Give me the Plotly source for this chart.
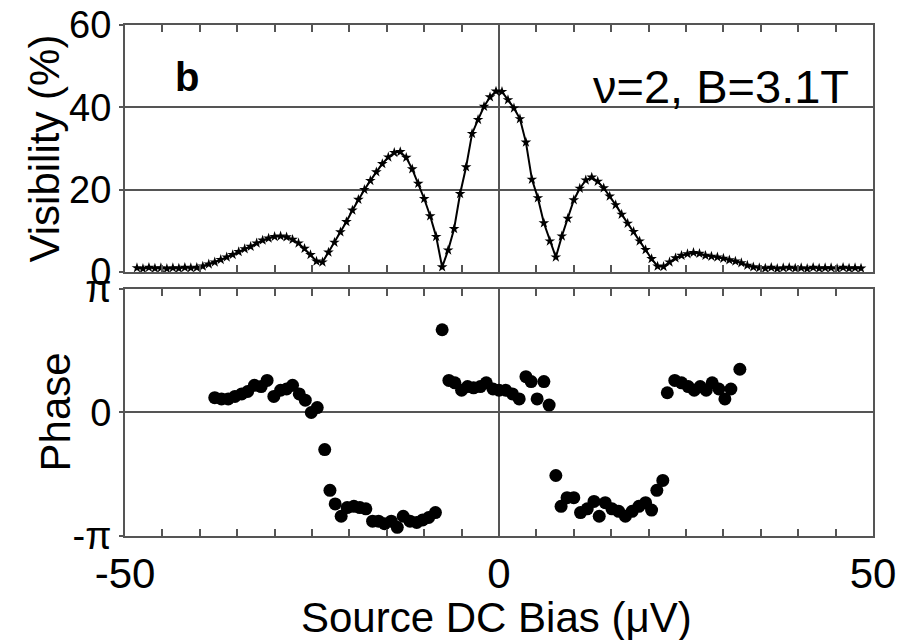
import plotly.graph_objects as go

# ---------------- data ----------------
bias_vis = [-48.4, -47.6, -46.8, -46.0, -45.2, -44.4, -43.6, -42.8, -42.0, -41.2,
            -40.4, -39.6, -38.8, -38.0, -37.2, -36.4, -35.6, -34.8, -34.0, -33.2,
            -32.4, -31.6, -30.8, -30.0, -29.2, -28.4, -27.6, -26.8, -26.0, -25.2,
            -24.4, -23.6, -22.8, -22.0, -21.2, -20.4, -19.6, -18.8, -18.0, -17.2,
            -16.4, -15.6, -14.8, -14.0, -13.2, -12.4, -11.6, -10.8, -10.0, -9.2,
            -8.4, -7.6, -6.8, -6.0, -5.2, -4.4, -3.6, -2.8, -2.0, -1.2,
            -0.4, 0.4, 1.2, 2.0, 2.8, 3.6, 4.4, 5.2, 6.0, 6.8,
            7.6, 8.4, 9.2, 10.0, 10.8, 11.6, 12.4, 13.2, 14.0, 14.8,
            15.6, 16.4, 17.2, 18.0, 18.8, 19.6, 20.4, 21.2, 22.0, 22.8,
            23.6, 24.4, 25.2, 26.0, 26.8, 27.6, 28.4, 29.2, 30.0, 30.8,
            31.6, 32.4, 33.2, 34.0, 34.8, 35.6, 36.4, 37.2, 38.0, 38.8,
            39.6, 40.4, 41.2, 42.0, 42.8, 43.6, 44.4, 45.2, 46.0, 46.8,
            47.6, 48.4]
visibility = [1.0, 0.8, 1.1, 0.9, 1.0, 0.8, 1.0, 0.9, 1.1, 1.0,
              1.1, 1.4, 1.9, 2.4, 3.0, 3.6, 4.2, 4.9, 5.6, 6.2,
              7.0, 7.7, 8.2, 8.6, 8.7, 8.5, 7.9, 7.0, 5.7, 4.2,
              2.6, 2.4, 4.8, 7.2, 9.7, 12.2, 15.0, 17.6, 20.0, 22.2,
              24.3, 26.3, 27.9, 29.0, 29.2, 27.8, 25.0, 21.5, 17.8, 13.6,
              8.6, 1.2, 5.3, 10.5, 19.0, 25.5, 33.6, 37.0, 40.2, 42.5,
              43.9, 43.8, 41.8, 39.8, 37.2, 31.5, 22.5, 18.0, 11.9, 7.5,
              3.6, 8.7, 13.0, 17.5, 20.3, 22.3, 23.0, 22.0, 20.4, 18.4,
              16.3, 14.0, 11.8, 9.8, 7.5, 5.4, 3.2, 1.4, 1.3, 2.4,
              3.4, 4.0, 4.4, 4.7, 4.5, 4.0, 3.8, 3.6, 3.3, 2.9,
              2.6, 2.2, 1.6, 1.2, 1.0, 0.9, 1.1, 0.8, 1.0, 1.1,
              0.9, 1.0, 0.8, 1.1, 0.9, 1.0, 1.0, 0.8, 1.1, 0.9,
              1.0, 0.9]

bias_phase = [-38.0, -37.1, -36.2, -35.3, -34.4, -33.6, -32.7, -31.8, -31.0, -30.1,
              -29.2, -28.4, -27.6, -26.7, -25.9, -25.1, -24.3, -23.3, -22.6, -21.9,
              -21.1, -20.3, -19.4, -18.6, -17.8, -16.9, -16.1, -15.3, -14.4, -13.6,
              -12.8, -11.9, -11.0, -10.2, -9.4, -8.5, -7.6, -6.7, -5.9, -5.0,
              -4.2, -3.4, -2.5, -1.7, -0.8, 0.0, 0.9, 1.8, 2.7, 3.6,
              4.3, 5.1, 6.0, 6.7, 7.6, 8.3, 9.1, 10.0, 10.9, 11.8,
              12.7, 13.4, 14.2, 15.1, 16.0, 16.9, 17.8, 18.7, 19.6, 20.4,
              21.1, 21.9, 22.5, 23.5, 24.4, 25.3, 26.1, 26.9, 27.7, 28.5,
              29.4, 30.2, 31.0, 32.2]
# phase in units of pi
phase = [0.12, 0.11, 0.11, 0.13, 0.15, 0.17, 0.22, 0.21, 0.26, 0.13,
         0.18, 0.19, 0.22, 0.15, 0.10, 0.00, 0.04, -0.30, -0.63, -0.74,
         -0.84, -0.77, -0.76, -0.77, -0.78, -0.88, -0.88, -0.90, -0.88, -0.93,
         -0.84, -0.88, -0.89, -0.87, -0.85, -0.81, 0.67, 0.26, 0.24, 0.18,
         0.21, 0.20, 0.21, 0.24, 0.19, 0.18, 0.18, 0.15, 0.11, 0.29,
         0.25, 0.11, 0.25, 0.06, -0.51, -0.76, -0.69, -0.69, -0.81, -0.78,
         -0.72, -0.84, -0.73, -0.78, -0.80, -0.84, -0.80, -0.76, -0.73, -0.79,
         -0.63, -0.55, 0.16, 0.26, 0.24, 0.21, 0.18, 0.21, 0.18, 0.24,
         0.19, 0.11, 0.19, 0.35]

x_ticks = [-50, 0, 50]
x_ticklabels = ["-50", "0", "50"]
vis_ticks = [0, 20, 40, 60]
phase_ticks = [-1, 0, 1]
phase_ticklabels = ["-π", "0", "π"]

# ---------------- figure ----------------
FONT = "Liberation Sans, Arial, sans-serif"
FRAME = "#555555"

fig = go.Figure()
fig.add_trace(go.Scatter(
    x=bias_vis, y=visibility, mode="lines+markers",
    line=dict(color="black", width=2),
    marker=dict(symbol="star", size=8, color="black"),
    xaxis="x", yaxis="y", showlegend=False))
fig.add_trace(go.Scatter(
    x=bias_phase, y=phase, mode="markers",
    marker=dict(symbol="circle", size=13, color="black"),
    xaxis="x2", yaxis="y2", showlegend=False))

common_x = dict(
    range=[-50, 50], tickvals=x_ticks, ticktext=x_ticklabels,
    ticks="inside", ticklen=7, tickwidth=1.5, tickcolor=FRAME,
    minor=dict(dtick=5, tick0=0, ticks="inside", ticklen=7, tickwidth=1.5,
               tickcolor=FRAME, showgrid=False),
    showgrid=True, gridcolor=FRAME, gridwidth=2, zeroline=False,
    showline=True, linecolor=FRAME, linewidth=2, mirror="allticks",
    tickfont=dict(family=FONT, size=42, color="black"),
    automargin=False,
)
common_y = dict(
    ticks="outside", ticklen=4, tickwidth=1.5, tickcolor=FRAME,
    showgrid=True, gridcolor=FRAME, gridwidth=2, zeroline=False,
    showline=True, linecolor=FRAME, linewidth=2, mirror=True,
    tickfont=dict(family=FONT, size=38, color="black"),
    automargin=False,
)

fig.update_layout(
    width=907, height=640,
    margin=dict(l=125, r=34, t=25, b=104),
    paper_bgcolor="white", plot_bgcolor="white",
    font=dict(family=FONT, color="black"),
    xaxis=dict(common_x, anchor="y", showticklabels=False, domain=[0, 1]),
    xaxis2=dict(common_x, anchor="y2", showticklabels=True, domain=[0, 1]),
    yaxis=dict(common_y, domain=[0.5166, 1.0], range=[0, 60], tickvals=vis_ticks),
    yaxis2=dict(common_y, domain=[0.0, 0.4834], range=[-1, 1],
                tickvals=phase_ticks, ticktext=phase_ticklabels),
    annotations=[
        dict(text="Source DC Bias (μV)", xref="paper", yref="paper",
             x=0.497, y=0, yshift=-81, xanchor="center", yanchor="middle",
             showarrow=False, font=dict(family=FONT, size=42)),
        dict(text="Visibility (%)", xref="paper", yref="y domain",
             x=0, xshift=-80, y=0.5, xanchor="center", yanchor="middle",
             textangle=-90, showarrow=False, font=dict(family=FONT, size=42)),
        dict(text="Phase", xref="paper", yref="y2 domain",
             x=0, xshift=-70, y=0.5, xanchor="center", yanchor="middle",
             textangle=-90, showarrow=False, font=dict(family=FONT, size=42)),
        dict(text="<b>b</b>", xref="paper", yref="y domain",
             x=0.083, y=0.79, xanchor="center", yanchor="middle",
             showarrow=False, font=dict(family=FONT, size=40)),
        dict(text="ν=2, B=3.1T", xref="paper", yref="y domain",
             x=0.97, y=0.75, xanchor="right", yanchor="middle",
             showarrow=False, font=dict(family=FONT, size=47)),
    ],
)

fig.write_html("out.html",
               config={"displayModeBar": False},
               post_script="document.body.style.margin='0';document.body.style.padding='0';")
